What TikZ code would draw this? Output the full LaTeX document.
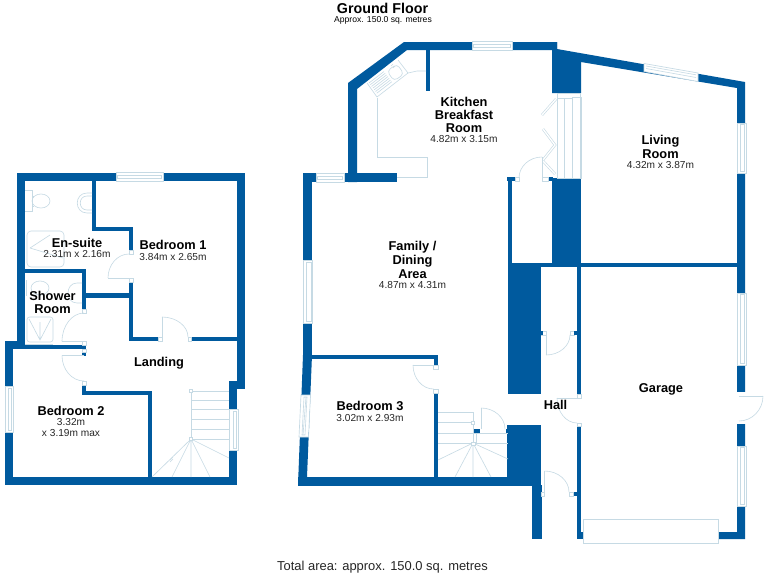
\documentclass[tikz,border=0pt]{standalone}
\usepackage{fontspec}
\setmainfont{Liberation Sans}
\definecolor{wallblue}{RGB}{0,90,158}
\definecolor{palefit}{RGB}{198,218,228}
\tikzset{
  wall/.style={fill=wallblue,draw=none},
  fit/.style={draw=palefit,line width=0.45pt},
  winbox/.style={draw=palefit,line width=0.5pt,fill=white},
  jamb/.style={draw=palefit,line width=0.4pt,fill=white},
  roomname/.style={font=\bfseries\fontsize{9.6}{11}\selectfont,text=black,inner sep=0pt,anchor=center},
  roomsize/.style={font=\fontsize{7.6}{9}\selectfont,text=black!85,inner sep=0pt,anchor=center}
}
\newcommand{\qh}[4]{(#1,#2) .. controls ({#1+0.55*(#3-#1)},#2) and (#3,{#4-0.55*(#4-#2)}) .. (#3,#4)}
\newcommand{\qv}[4]{(#1,#2) .. controls (#1,{#2+0.55*(#4-#2)}) and ({#3-0.55*(#3-#1)},#4) .. (#3,#4)}
\newcommand{\hwin}[4]{\draw[winbox] (#1,#3) rectangle (#2,#4);
  \draw[fit] ({#1+1.5},{#3+0.35*(#4-#3)}) rectangle ({#2-1.5},{#3+0.65*(#4-#3)});}
\newcommand{\vwin}[4]{\draw[winbox] (#1,#3) rectangle (#2,#4);
  \draw[fit] ({#1+0.4*(#2-#1)},{#3+1.5}) rectangle ({#1+0.8*(#2-#1)},{#4-1.5});}
\newcommand{\jb}[4]{\draw[jamb] (#1,#2) rectangle (#3,#4);}
\begin{document}
\begin{tikzpicture}[x=0.75pt,y=-0.75pt]
\useasboundingbox (0,0) rectangle (768,576);
\fill[white] (0,0) rectangle (768,576);

%% ---------- upper floor walls
\fill[wall] (17,173) rectangle (245,181);
\fill[wall] (17,173) rectangle (25,349);
\fill[wall] (5,341) rectangle (25,349);
\fill[wall] (5,341) rectangle (13,485);
\fill[wall] (5,477) rectangle (237,485);
\fill[wall] (13,345) rectangle (86,349);
\fill[wall] (237,173) rectangle (245,389);
\fill[wall] (229,381) rectangle (245,389);
\fill[wall] (229,381) rectangle (237,485);
\fill[wall] (92,173) rectangle (96,231);
\fill[wall] (92,227) rectangle (133,231);
\fill[wall] (129,227) rectangle (133,250);
\fill[wall] (129,282) rectangle (133,340);
\fill[wall] (129,337) rectangle (158,341);
\fill[wall] (190,337) rectangle (237,341);
\fill[wall] (25,269) rectangle (86,273);
\fill[wall] (82,269) rectangle (86,312);
\fill[wall] (86,293) rectangle (130,298);
\fill[wall] (82,345) rectangle (86,356);
\fill[wall] (82,385) rectangle (86,395);
\fill[wall] (82,391) rectangle (152,395);
\fill[wall] (147.5,391) rectangle (152,477);

%% ---------- ground floor walls
\fill[wall] (404,42) -- (557,42) -- (557,50) -- (407,50) -- (357,89) -- (357,182) -- (348,182) -- (348,83) -- cycle;
\fill[wall] (303,173) rectangle (312,356);
\fill[wall] (303,173) rectangle (397,182);
\fill[wall] (426,50) rectangle (430,91);
\fill[wall] (303,355) -- (312,355) -- (307,477) -- (307,485) -- (298,485) -- cycle;
\fill[wall] (298,477) rectangle (532,485.5);
\fill[wall] (303,355) rectangle (438,359);
\fill[wall] (433.5,355) rectangle (438,365);
\fill[wall] (433.5,393) rectangle (438,477);
\fill[wall] (507,425) rectangle (541,485);
\fill[wall] (532,485) rectangle (541.5,539);
\fill[wall] (537,532) rectangle (542,539);
\fill[wall] (507.5,267) rectangle (541,394);
\fill[wall] (508,177) rectangle (512,267);
\fill[wall] (507,177) rectangle (515,181);
\fill[wall] (552,42) -- (557,42) -- (557,49) -- (745,82) -- (745,539) -- (718,539) -- (718,532) -- (737,532) -- (737,88) -- (581,62) -- (581,93) -- (552,93) -- cycle;
\fill[wall] (552,178) rectangle (581,267);
\fill[wall] (547,177) rectangle (553,181);
\fill[wall] (508,263) rectangle (737,267);
\fill[wall] (577,263) rectangle (581,394);
\fill[wall] (577,426) rectangle (581,539);
\fill[wall] (577,532) rectangle (584,539);
\fill[wall] (541,331) rectangle (543,335);
\fill[wall] (574,331) rectangle (577,335);
\fill[wall] (573,492) rectangle (577,496);
\fill[wall] (474,429) rectangle (480,434);
\fill[wall] (506,429) rectangle (508,434);

%% openings
\fill[white] (736.8,392) rectangle (746,424);

%% ---------- upper floor windows
\hwin{116}{163}{172.5}{181}
\draw[winbox] (5,386) rectangle (13,432);
\draw[fit] (8,388) rectangle (11,430);
\draw[winbox] (229,409) rectangle (238,450);
\draw[fit] (233,411) rectangle (236,448);

%% ---------- ground floor windows
\hwin{472}{512}{41.5}{50}
\hwin{316}{344}{173}{182}
\draw[winbox] (303,260) rectangle (312,323);
\draw[fit] (306,262) rectangle (311,321);
\draw[winbox] (301,395) -- (310.5,395) -- (308.5,437) -- (299,437) -- cycle;
\draw[fit] (304,397) -- (307,397) -- (305,435) -- (302,435) -- cycle;
\draw[fit] (306,397) -- (303,435);
\draw[winbox] (644,63.5) -- (698,73) -- (698,81.5) -- (644,71.5) -- cycle;
\draw[fit] (646,66) -- (696,74.8) (646,68.5) -- (696,77.5);
\vwin{737}{746}{123}{173}
\vwin{737}{746}{293}{365}
\vwin{737}{746}{446}{506}
\draw[winbox] (583,519) rectangle (718,543);

%% ---------- upper floor doors and fittings
\jb{129}{250}{133}{254}\jb{129}{278}{133}{282}
\draw[fit] (129,278) -- (108,278);
\draw[fit] \qv{108}{278}{129}{254};
\jb{158}{337}{162}{341}\jb{188}{337}{191}{341}
\draw[fit] (162,337) -- (162,317);
\draw[fit] \qh{162}{317}{188}{337};
\jb{82}{309}{86}{313}\jb{82}{341}{86}{345}
\draw[fit] (84,341.5) -- (62,341.5);
\draw[fit] \qv{62}{341.5}{84}{313};
\jb{82}{349}{86}{352}\jb{82}{381}{86}{385}
\draw[fit] (84,355.5) -- (62,355.5);
\draw[fit] \qv{62}{355.5}{84}{381};
% en-suite
\draw[fit] (25,190) -- (32,190) -- (32,211) -- (25,211);
\draw[fit] (41,201) ellipse [x radius=9,y radius=7];
\draw[fit] (32,196) -- (34,196) (32,206) -- (34,206);
\draw[fit] (92,193) -- (87,193) .. controls (74,193) and (74,213) .. (87,213) -- (92,213);
\draw[fit] (92,196) -- (87,196) .. controls (78,196) and (78,210) .. (87,210) -- (92,210);
\draw[fit,rounded corners=3pt] (27,231) rectangle (64,267);
\draw[fit] (30,248) -- (50,235) (30,248) -- (63,258);
% shower room
\draw[fit] (26,280) -- (26,296);
\draw[fit] (40,288) ellipse [x radius=9,y radius=7];
\draw[fit] (82,283) -- (77,283) .. controls (65,283) and (65,303) .. (77,303) -- (82,303);
\draw[fit,rounded corners=2pt] (27,317) rectangle (53,342);
\draw[fit] (29,319) -- (40,340) -- (51,319) (40,322) -- (40,340);
\draw[fit] (25,344) -- (53,344);
% landing stairs
\draw[fit] (191,391) -- (229,391) (191,400) -- (229,400) (191,409) -- (229,409)
  (191,419) -- (229,419) (191,429) -- (229,429) (191,439) -- (229,439);
\draw[fit] (191,391) -- (191,439);
\draw[fit] (191,439) -- (152,477) (191,439) -- (172,477) (191,439) -- (191,477)
  (191,439) -- (210,477) (191,439) -- (229,458);
\draw[fit] (170,460) -- (173,457) (170,462) -- (173,459);
\draw[jamb] (189.5,389.5) rectangle (192.5,392.5);
\draw[jamb] (189.5,437.5) rectangle (192.5,440.5);

%% ---------- ground floor doors and fittings
\jb{433.5}{365}{438}{369}\jb{433.5}{389}{438}{393}
\draw[fit] (433.5,365) -- (413,365);
\draw[fit] \qv{413}{365}{433.5}{389};
% kitchen
\draw[fit] (377,98) -- (377,157) -- (427,157) -- (427,177) -- (397,177);
\draw[fit] (377,97) -- (408,73) -- (417,71) -- (426,71);
\draw[fit] (367,83) -- (377,97) (398,60) -- (408,73);
\draw[fit,rounded corners=3pt] (387,71) -- (397,64) -- (404,74) -- (394,81) -- cycle;
\draw[fit] (391,66) -- (393,64) (393,68) -- (395,66);
\foreach \t in {0,1,...,6}{
  \draw[fit] ({369+1.3*\t},{83+1.7*\t}) -- ({384+1.3*\t},{71.5+1.7*\t});
}
% cupboard
\draw[fit] (557,93) -- (580,93) -- (580,178) -- (557,178) -- cycle;
\draw[fit] (557,98) -- (572,98) (564,98) -- (564,178) (572,98) -- (572,178);
\draw[fit] (572,97) rectangle (581,178);
\draw[fit,double=white,double distance=1pt] (556,99) -- (542,115);
\draw[fit,double=white,double distance=1pt] (543,129) -- (555,145) -- (543,160);
\draw[fit,double=white,double distance=1pt] (543,161) -- (555,174);
\jb{515}{177}{519}{181}\jb{542}{177}{548}{181}
\draw[fit] (542,178) -- (542,157);
\draw[fit] \qh{542}{157}{519}{178};
% stairs
\draw[fit] (438,412) -- (473,412) (438,422) -- (473,422) (438,433) -- (508,433) (438,443) -- (508,443);
\draw[fit] (473,412) -- (473,443) (476,434) -- (476,443);
\draw[fit] (473,443) -- (438,460) (473,443) -- (455,477) (473,443) -- (473,477)
  (473,443) -- (491,477) (473,443) -- (508,459);
\draw[jamb] (471,442) rectangle (475,445);
\draw[jamb] (471.5,421) rectangle (474.5,424);
\draw[fit] (481,429) -- (481,408);
\draw[fit] \qh{481}{408}{505}{429};
% hall
\jb{541}{331}{546}{335}\jb{570}{331}{574}{335}
\fill[wall] (541,331) rectangle (543,335);
\fill[wall] (574,331) rectangle (577,335);
\draw[fit] (546,335) -- (546,355);
\draw[fit] \qh{546}{355}{570}{335};
\jb{541.5}{492}{544.5}{496}\jb{569}{492}{573}{496}
\draw[fit] (544.5,496) -- (544.5,471);
\draw[fit] \qh{544.5}{471}{569}{492};
\jb{577}{394}{581}{398}\jb{577}{423}{581}{426}
\draw[fit] (581,398) -- (557,398);
\draw[fit] \qv{557}{398}{577}{423};
\draw[fit] (739,396) -- (763,396);
\draw[fit] \qv{763}{396}{739}{421};

%% ---------- texts
\node[font=\bfseries\fontsize{10.7}{12}\selectfont,inner sep=0pt] (title) at (382.5,8) {Ground Floor};
\node[font=\fontsize{6.45}{8}\selectfont,inner sep=0pt] (sub) at (383,20.7) {Approx. 150.0 sq. metres};
\node[roomname] (kit1) at (464,102) {Kitchen};
\node[roomname] (kit2) at (464,115) {Breakfast};
\node[roomname] (kit3) at (464,128) {Room};
\node[roomsize] (kit4) at (464,139.5) {4.82m x 3.15m};
\node[roomname] (liv1) at (660.5,141) {Living};
\node[roomname] (liv2) at (660.5,154) {Room};
\node[roomsize] (liv3) at (660.5,165.5) {4.32m x 3.87m};
\node[roomname] (fam1) at (412.5,247.5) {Family /};
\node[roomname] (fam2) at (412.5,261) {Dining};
\node[roomname] (fam3) at (412.5,274) {Area};
\node[roomsize] (fam4) at (412.5,285.5) {4.87m x 4.31m};
\node[roomname] (bed3) at (370,406) {Bedroom 3};
\node[roomsize] (bed3d) at (370,418) {3.02m x 2.93m};
\node[roomname] (gar) at (661,389) {Garage};
\node[roomname] (hall) at (555.5,405) {Hall};
\node[roomname] (bed1) at (173,245) {Bedroom 1};
\node[roomsize] (bed1d) at (173,257.5) {3.84m x 2.65m};
\node[roomname] (ens) at (77,242.5) {En-suite};
\node[roomsize] (ensd) at (77,254.5) {2.31m x 2.16m};
\node[roomname] (sho1) at (52.5,296) {Shower};
\node[roomname] (sho2) at (52.5,309) {Room};
\node[roomname] (land) at (159,363) {Landing};
\node[roomname] (bed2) at (71,411) {Bedroom 2};
\node[roomsize] (bed2a) at (71,422.5) {3.32m};
\node[roomsize] (bed2b) at (71,433.5) {x 3.19m max};
\node[font=\fontsize{9.7}{11}\selectfont,inner sep=0pt,text=black!85] (total) at (382.5,567) {Total area: approx. 150.0 sq. metres};
\end{tikzpicture}
\end{document}
